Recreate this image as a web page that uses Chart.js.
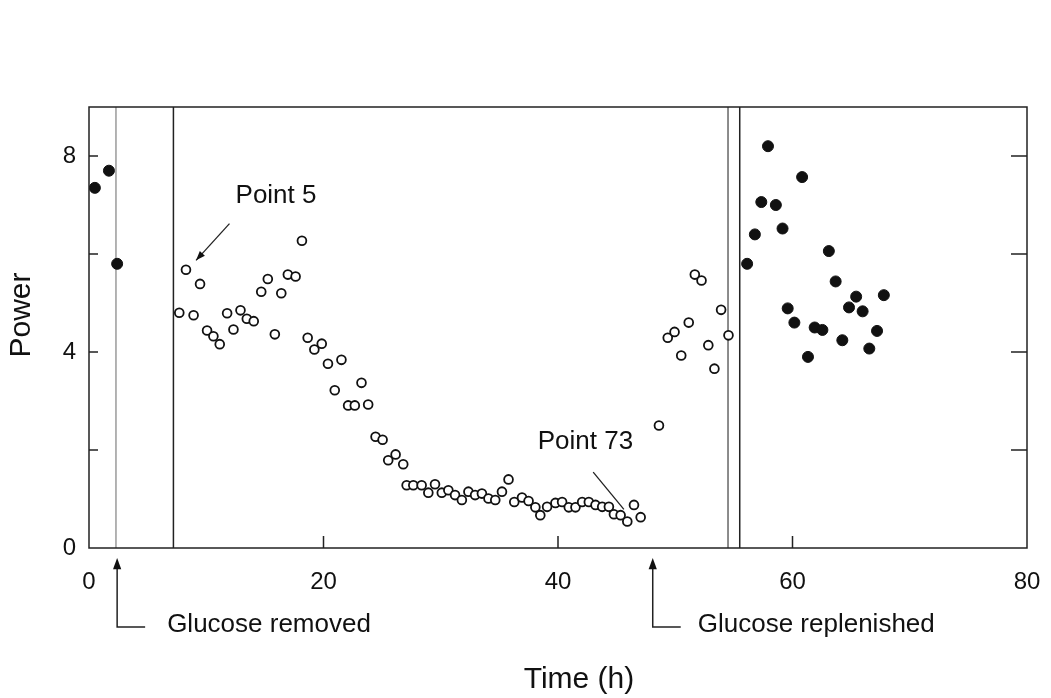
<!DOCTYPE html>
<html>
<head>
<meta charset="utf-8">
<script src="https://cdn.jsdelivr.net/npm/chart.js@4.4.1/dist/chart.umd.min.js"></script>
<style>
  html, body { margin: 0; padding: 0; background: #fff; }
  canvas { display: block; }
</style>
</head>
<body>
<canvas id="myChart" width="1051" height="698"></canvas>
<script>
// glucose present, before removal (filled)
var beforeTime = [0.5, 1.7, 2.4];
var beforePower = [7.35, 7.7, 5.8];

// glucose-free period (open)
var starvedTime = [7.70, 8.27, 8.92, 9.47, 10.07, 10.61, 11.15, 11.78, 12.32, 12.92,
  13.46, 14.05, 14.69, 15.25, 15.85, 16.40, 16.96, 17.62, 18.16, 18.65,
  19.22, 19.85, 20.38, 20.96, 21.53, 22.10, 22.67, 23.24, 23.81, 24.44,
  25.04, 25.52, 26.15, 26.80, 27.09, 27.66, 28.37, 28.94, 29.51, 30.09,
  30.65, 31.22, 31.80, 32.36, 32.93, 33.51, 34.07, 34.65, 35.22, 35.78,
  36.27, 36.93, 37.49, 38.07, 38.49, 39.07, 39.78, 40.35, 40.92, 41.49,
  42.06, 42.63, 43.20, 43.77, 44.34, 44.77, 45.34, 45.91, 46.48, 47.05,
  48.61, 49.36, 49.94, 50.51, 51.15, 51.67, 52.24, 52.82, 53.34, 53.91, 54.54];
var starvedPower = [4.80, 5.68, 4.75, 5.39, 4.44, 4.32, 4.16, 4.79, 4.46, 4.85,
  4.68, 4.63, 5.23, 5.49, 4.36, 5.20, 5.58, 5.54, 6.27, 4.29,
  4.05, 4.17, 3.76, 3.22, 3.84, 2.91, 2.91, 3.37, 2.93, 2.27,
  2.21, 1.79, 1.91, 1.71, 1.28, 1.28, 1.28, 1.13, 1.30, 1.13,
  1.18, 1.08, 0.98, 1.15, 1.08, 1.11, 1.01, 0.98, 1.15, 1.40,
  0.94, 1.03, 0.96, 0.83, 0.67, 0.84, 0.92, 0.94, 0.83, 0.83,
  0.94, 0.94, 0.88, 0.84, 0.84, 0.69, 0.67, 0.54, 0.88, 0.63,
  2.50, 4.29, 4.41, 3.93, 4.60, 5.58, 5.46, 4.14, 3.66, 4.86, 4.34];

// after glucose replenished (filled)
var refedTime = [56.13, 56.79, 57.34, 57.91, 58.58, 59.15, 59.59, 60.16, 60.82, 61.32,
  61.89, 62.55, 63.10, 63.68, 64.25, 64.82, 65.43, 65.98, 66.55, 67.21, 67.79];
var refedPower = [5.80, 6.40, 7.06, 8.20, 7.00, 6.52, 4.89, 4.60, 7.57, 3.90,
  4.50, 4.45, 6.06, 5.44, 4.24, 4.91, 5.13, 4.83, 4.07, 4.43, 5.16];

var xTicks = [0, 20, 40, 60, 80];
var yTicks = [0, 2, 4, 6, 8];
var yLabels = [0, 4, 8];
var markerLines = [2.3, 7.2, 54.5, 55.5];

var font = "'Liberation Sans', Arial, sans-serif";

function pts(xs, ys) {
  return xs.map(function(x, i){ return {x: x, y: ys[i]}; });
}

function arrowHead(ctx, x1, y1, x2, y2, size) {
  var a = Math.atan2(y2 - y1, x2 - x1);
  ctx.beginPath();
  ctx.moveTo(x2, y2);
  ctx.lineTo(x2 - size * Math.cos(a - 0.35), y2 - size * Math.sin(a - 0.35));
  ctx.lineTo(x2 - size * Math.cos(a + 0.35), y2 - size * Math.sin(a + 0.35));
  ctx.closePath();
  ctx.fill();
}

var decor = {
  id: 'decor',
  beforeDatasetsDraw: function(chart) {
    var ctx = chart.ctx, xs = chart.scales.x, a = chart.chartArea;
    ctx.save();
    markerLines.forEach(function(v, i) {
      var px = xs.getPixelForValue(v);
      ctx.strokeStyle = (i == 0) ? '#9a9a9a' : (i == 2 ? '#666' : '#222');
      ctx.lineWidth = 1.5;
      ctx.beginPath();
      ctx.moveTo(px, a.top);
      ctx.lineTo(px, a.bottom);
      ctx.stroke();
    });
    ctx.restore();
  },
  afterDraw: function(chart) {
    var ctx = chart.ctx, xs = chart.scales.x, ys = chart.scales.y, a = chart.chartArea;
    ctx.save();
    ctx.strokeStyle = '#222';
    ctx.fillStyle = '#222';
    ctx.lineWidth = 1.5;
    ctx.strokeRect(a.left, a.top, a.right - a.left, a.bottom - a.top);

    // inward ticks
    ctx.beginPath();
    yTicks.forEach(function(v) {
      if (v == 0) return;
      var py = ys.getPixelForValue(v);
      ctx.moveTo(a.left, py); ctx.lineTo(a.left + 9, py);
      ctx.moveTo(a.right, py); ctx.lineTo(a.right - 16, py);
    });
    xTicks.forEach(function(v) {
      if (v == 0 || v == 80) return;
      var px = xs.getPixelForValue(v);
      ctx.moveTo(px, a.bottom); ctx.lineTo(px, a.bottom - 12);
    });
    ctx.stroke();

    ctx.fillStyle = '#111';
    ctx.textAlign = 'center';
    ctx.textBaseline = 'middle';

    // Point 5
    ctx.font = '26px ' + font;
    ctx.fillText('Point 5', xs.getPixelForValue(15.95), ys.getPixelForValue(7.19));
    var x1 = xs.getPixelForValue(11.98), y1 = ys.getPixelForValue(6.62);
    var x2 = xs.getPixelForValue(9.13), y2 = ys.getPixelForValue(5.87);
    ctx.lineWidth = 1.3;
    ctx.beginPath(); ctx.moveTo(x1, y1); ctx.lineTo(x2, y2); ctx.stroke();
    arrowHead(ctx, x1, y1, x2, y2, 10);

    // Point 73
    ctx.fillText('Point 73', xs.getPixelForValue(42.34), ys.getPixelForValue(2.16));
    x1 = xs.getPixelForValue(43.0); y1 = ys.getPixelForValue(1.55);
    x2 = xs.getPixelForValue(45.62); y2 = ys.getPixelForValue(0.79);
    ctx.beginPath(); ctx.moveTo(x1, y1); ctx.lineTo(x2, y2); ctx.stroke();

    // glucose arrows below the axis
    ctx.textAlign = 'left';
    [[2.4, 'Glucose removed', 50], [48.08, 'Glucose replenished', 45]].forEach(function(g) {
      var px = xs.getPixelForValue(g[0]);
      var tip = a.bottom + 10, low = a.bottom + 79;
      ctx.lineWidth = 1.5;
      ctx.beginPath();
      ctx.moveTo(px, tip + 8); ctx.lineTo(px, low); ctx.lineTo(px + 28, low);
      ctx.stroke();
      arrowHead(ctx, px, low, px, tip, 12);
      ctx.font = '26px ' + font;
      ctx.fillText(g[1], px + g[2], low - 2);
    });

    // axis titles
    ctx.textAlign = 'center';
    ctx.font = '30px ' + font;
    ctx.fillText('Time (h)', 579, 680);
    ctx.translate(22, 315);
    ctx.rotate(-Math.PI / 2);
    ctx.fillText('Power', 0, 0);
    ctx.restore();
  }
};

var ctx = document.getElementById("myChart").getContext('2d');
var powerChart = new Chart(ctx, {
  type: 'scatter',
  data: {
    datasets: [{
      label: 'Before removal',
      data: pts(beforeTime, beforePower),
      pointRadius: 5.5,
      pointBackgroundColor: '#111',
      pointBorderColor: '#111',
      pointBorderWidth: 1
    }, {
      label: 'Glucose removed',
      data: pts(starvedTime, starvedPower),
      pointRadius: 4.4,
      pointBackgroundColor: '#fff',
      pointBorderColor: '#111',
      pointBorderWidth: 1.8
    }, {
      label: 'Glucose replenished',
      data: pts(refedTime, refedPower),
      pointRadius: 5.5,
      pointBackgroundColor: '#111',
      pointBorderColor: '#111',
      pointBorderWidth: 1
    }]
  },
  options: {
    responsive: false,
    animation: false,
    layout: { padding: { top: 107, right: 24, left: 0, bottom: 0 } },
    plugins: { legend: { display: false }, tooltip: { enabled: false } },
    scales: {
      x: {
        type: 'linear',
        min: 0, max: 80,
        afterFit: function(s){ s.height = 150; s.paddingLeft = 0; s.paddingRight = 0; },
        afterBuildTicks: function(s){ s.ticks = xTicks.map(function(v){ return {value: v}; }); },
        grid: { display: false, drawTicks: false },
        border: { display: false },
        ticks: { color: '#111', padding: 20, maxRotation: 0, font: { family: font, size: 24 } }
      },
      y: {
        min: 0, max: 9,
        afterFit: function(s){ s.width = 89; s.paddingTop = 0; s.paddingBottom = 0; },
        afterBuildTicks: function(s){ s.ticks = yTicks.map(function(v){ return {value: v}; }); },
        grid: { display: false, drawTicks: false },
        border: { display: false },
        ticks: {
          color: '#111', padding: 13, font: { family: font, size: 24 },
          callback: function(v){ return yLabels.indexOf(v) >= 0 ? String(v) : ''; }
        }
      }
    }
  },
  plugins: [decor]
});
</script>
</body>
</html>
